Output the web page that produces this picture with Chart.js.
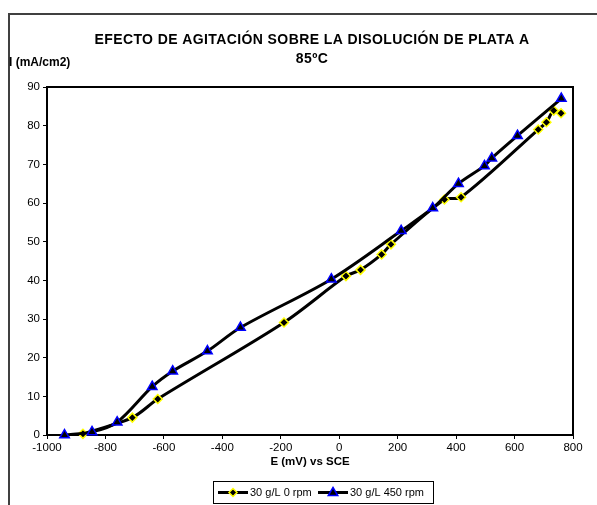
<!DOCTYPE html>
<html>
<head>
<meta charset="utf-8">
<script src="https://cdn.jsdelivr.net/npm/chart.js@4/dist/chart.umd.min.js"></script>
<style>
  html, body { margin: 0; padding: 0; background: #fff; }
  #wrap { width: 597px; height: 505px; position: relative; }
</style>
</head>
<body>
<div id="wrap"><canvas id="chart" width="597" height="505"></canvas></div>
<script>
// Datos: E (mV vs SCE) e I (mA/cm2)
const potential0 = [-877, -708, -621, -189, 23, 73, 145, 177, 360, 417, 681, 709, 734, 759];
const current0 = [0.3, 4.5, 9.3, 29.1, 41.1, 42.7, 46.7, 49.3, 60.9, 61.5, 79.0, 80.9, 83.9, 83.2];

const potential450 = [-940, -846, -760, -640, -570, -451, -338, -27, 212, 320, 408, 497, 522, 610, 760];
const current450 = [0, 0.8, 3.3, 12.5, 16.5, 21.7, 27.8, 40.3, 52.8, 58.7, 65.0, 69.6, 71.6, 77.4, 87.0];

const seriesLabels = ["30 g/L 0 rpm", "30 g/L 450 rpm"];
const titleLines = ["EFECTO DE AGITACIÓN SOBRE LA DISOLUCIÓN DE PLATA A", "85ºC"];
const yTitle = "I (mA/cm2)";
const xTitle = "E (mV) vs SCE";

const FONT = "'Liberation Sans', Arial, sans-serif";

const toPoints = (xs, ys) => xs.map((x, i) => ({ x, y: ys[i] }));

function drawDiamond(ctx, x, y, r) {
  ctx.beginPath();
  ctx.moveTo(x, y - r); ctx.lineTo(x + r, y); ctx.lineTo(x, y + r); ctx.lineTo(x - r, y);
  ctx.closePath();
  ctx.fillStyle = "#000"; ctx.strokeStyle = "#ffff00"; ctx.lineWidth = 1.5;
  ctx.fill(); ctx.stroke();
}
function drawTriangle(ctx, x, y, r) {
  ctx.beginPath();
  ctx.moveTo(x, y - r); ctx.lineTo(x + r * 0.95, y + r * 0.6); ctx.lineTo(x - r * 0.95, y + r * 0.6);
  ctx.closePath();
  ctx.fillStyle = "#000"; ctx.strokeStyle = "#0000ff"; ctx.lineWidth = 1.5;
  ctx.fill(); ctx.stroke();
}

const decor = {
  id: "decor",
  beforeDraw(chart) {
    const ctx = chart.ctx;
    ctx.save();
    // marco exterior (recortado)
    ctx.strokeStyle = "#404040"; ctx.lineWidth = 2;
    ctx.beginPath();
    ctx.moveTo(9, 505); ctx.lineTo(9, 14); ctx.lineTo(597, 14);
    ctx.stroke();
    ctx.restore();
  },
  beforeDatasetsDraw(chart) {
    const { ctx, chartArea: a } = chart;
    ctx.save();
    ctx.strokeStyle = "#000"; ctx.lineWidth = 2;
    ctx.strokeRect(a.left, a.top, a.right - a.left, a.bottom - a.top);
    ctx.restore();
  },
  afterDraw(chart) {
    const ctx = chart.ctx;
    ctx.save();
    ctx.fillStyle = "#000";
    ctx.textAlign = "center"; ctx.textBaseline = "middle";
    ctx.font = "bold 14px " + FONT;
    ctx.letterSpacing = "0.4px";
    ctx.fillText(titleLines[0], 312, 40);
    ctx.fillText(titleLines[1], 312, 59);
    ctx.letterSpacing = "0px";

    ctx.font = "bold 12px " + FONT;
    ctx.textAlign = "left";
    ctx.fillText(yTitle, 9, 63);
    ctx.font = "bold 11.5px " + FONT;
    ctx.textAlign = "center";
    ctx.fillText(xTitle, 310, 462);

    // leyenda
    const lx = 213, ly = 481, lw = 220, lh = 22;
    ctx.strokeStyle = "#000"; ctx.lineWidth = 1;
    ctx.strokeRect(lx + 0.5, ly + 0.5, lw, lh);
    const cy = ly + lh / 2 + 0.5;
    ctx.font = "11px " + FONT;
    ctx.textAlign = "left";
    // entrada 1
    ctx.strokeStyle = "#000"; ctx.lineWidth = 3;
    ctx.beginPath(); ctx.moveTo(218, cy); ctx.lineTo(248, cy); ctx.stroke();
    drawDiamond(ctx, 233, cy, 4);
    ctx.fillStyle = "#000";
    ctx.fillText(seriesLabels[0], 250, cy);
    // entrada 2
    ctx.strokeStyle = "#000"; ctx.lineWidth = 3;
    ctx.beginPath(); ctx.moveTo(318, cy); ctx.lineTo(348, cy); ctx.stroke();
    drawTriangle(ctx, 333, cy, 5);
    ctx.fillStyle = "#000";
    ctx.fillText(seriesLabels[1], 350, cy);
    ctx.restore();
  }
};

new Chart(document.getElementById("chart"), {
  type: "line",
  data: {
    datasets: [
      {
        label: seriesLabels[0],
        data: toPoints(potential0, current0),
        borderColor: "#000",
        borderWidth: 3,
        tension: 0.3,
        pointStyle: "rectRot",
        pointRadius: 4.5,
        pointBackgroundColor: "#000",
        pointBorderColor: "#ffff00",
        pointBorderWidth: 1.5,
        clip: false,
        order: 2,
      },
      {
        label: seriesLabels[1],
        data: toPoints(potential450, current450),
        borderColor: "#000",
        borderWidth: 3,
        tension: 0.3,
        pointStyle: "triangle",
        pointRadius: 5.5,
        pointBackgroundColor: "#000",
        pointBorderColor: "#0000ff",
        pointBorderWidth: 1.5,
        clip: false,
        order: 1,
      },
    ],
  },
  options: {
    responsive: false,
    animation: false,
    layout: { padding: { left: 0, top: 87, right: 24, bottom: 0 } },
    plugins: {
      legend: { display: false },
      title: { display: false },
      tooltip: { enabled: false },
    },
    scales: {
      x: {
        type: "linear",
        min: -1000, max: 800,
        ticks: {
          stepSize: 200, color: "#000", font: { family: FONT, size: 11.5 }, padding: 2, maxRotation: 0,
          callback: (v) => String(v),
        },
        grid: { display: true, drawOnChartArea: false, drawTicks: true, tickLength: 4, color: "#000" },
        border: { display: false },
        afterFit(scale) { scale.height = 70; },
      },
      y: {
        type: "linear",
        min: 0, max: 90,
        ticks: { stepSize: 10, color: "#000", font: { family: FONT, size: 11.5 }, padding: 3 },
        grid: { display: true, drawOnChartArea: false, drawTicks: true, tickLength: 4, color: "#000" },
        border: { display: false },
        afterFit(scale) { scale.width = 47; },
      },
    },
  },
  plugins: [decor],
});
</script>
</body>
</html>
